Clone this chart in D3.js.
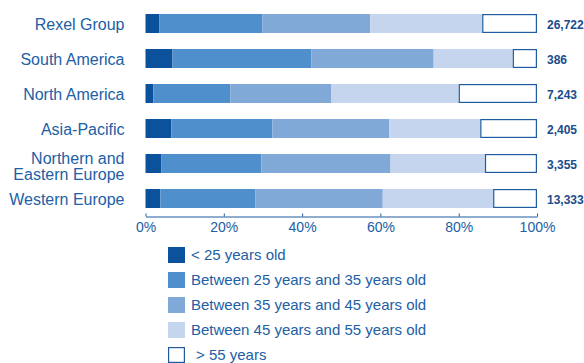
<!DOCTYPE html>
<html>
<head>
<meta charset="utf-8">
<script src="https://cdn.jsdelivr.net/npm/d3@7"></script>
<style>
  body { margin: 0; background: #fff; }
  svg { display: block; font-family: "Liberation Sans", Arial, sans-serif; }
</style>
</head>
<body>
<div id="chart"></div>
<script>
// regions, top to bottom
var regions = ['Rexel Group', 'South America', 'North America', 'Asia-Pacific', 'Northern and\nEastern Europe', 'Western Europe'];
var headcount = ['26,722', '386', '7,243', '2,405', '3,355', '13,333'];

// share of staff per age band (%)
var under25  = [3.5, 6.9, 2.0, 6.6, 4.0, 3.8];
var age25_35 = [26.3, 35.5, 19.7, 25.8, 25.6, 24.3];
var age35_45 = [27.6, 31.2, 25.8, 29.9, 33.0, 32.5];
var age45_55 = [28.6, 20.2, 32.5, 23.2, 24.1, 28.2];
var over55   = [14.0, 6.2, 20.0, 14.5, 13.3, 11.2];

var bands = ['< 25 years old', 'Between 25 years and 35 years old', 'Between 35 years and 45 years old',
             'Between 45 years and 55 years old', '> 55 years'];
var ticks = [0, 20, 40, 60, 80, 100];

var COLORS = ['#0b519c', '#4f8fcc', '#81a9d7', '#c4d5ed', '#ffffff'];
var STROKE = '#1e5b9f', TEXT = '#2160a5', VALUE = '#1b4c8c';

var WIDTH = 584, HEIGHT = 363;

var svg = d3.select('#chart').append('svg').attr('width', WIDTH).attr('height', HEIGHT);

var x = d3.scaleLinear().domain([0, 100]).range([145.5, 537]);
var y = d3.scaleBand().domain(regions).range([6, 216]).paddingInner(0.457).paddingOuter(0.2285);

// stack the rows
var rows = regions.map(function(r, i) {
    var o = { region: r };
    [under25, age25_35, age35_45, age45_55, over55].forEach(function(s, k) { o['k' + k] = s[i]; });
    return o;
});
var keys = ['k0', 'k1', 'k2', 'k3', 'k4'];
var series = d3.stack().keys(keys)(rows);

var bars = svg.append('g');
series.forEach(function(s, k) {
    bars.append('g').selectAll('rect').data(s).enter().append('rect')
        .attr('x', function(d) { return x(d[0]) + (k === 4 ? 0.6 : 0); })
        .attr('y', function(d) { return y(d.data.region) + (k === 4 ? 0.6 : 0); })
        .attr('width', function(d) { return x(d[1]) - x(d[0]) - (k === 4 ? 1.2 : 0); })
        .attr('height', y.bandwidth() - (k === 4 ? 1.2 : 0))
        .attr('fill', COLORS[k])
        .attr('stroke', k === 4 ? STROKE : 'none')
        .attr('stroke-width', 1.2);
});

// region labels
svg.append('g').selectAll('text').data(regions).enter().append('text')
    .attr('x', 124.5)
    .attr('y', function(d) { return y(d) + y.bandwidth() / 2; })
    .attr('text-anchor', 'end')
    .attr('fill', TEXT)
    .attr('font-size', 16)
    .each(function(d) {
        var lines = d.split('\n');
        var t = d3.select(this);
        lines.forEach(function(l, j) {
            t.append('tspan').attr('x', 124.5)
                .attr('dy', j === 0 ? (lines.length > 1 ? '0em' : '0.43em') : '1em')
                .text(l);
        });
    });

// headcount at the right
svg.append('g').selectAll('text').data(regions).enter().append('text')
    .attr('x', 547)
    .attr('y', function(d) { return y(d) + y.bandwidth() / 2; })
    .attr('dy', '0.48em')
    .attr('fill', VALUE)
    .attr('font-size', 12)
    .attr('font-weight', 'bold')
    .text(function(d, i) { return headcount[i]; });

// x axis, ticks pointing up
var axis = svg.append('g').attr('transform', 'translate(0,216.5)')
    .call(d3.axisBottom(x).tickValues(ticks).tickSizeInner(-3).tickSizeOuter(0)
        .tickFormat(function(d) { return d + '%'; }));
axis.select('.domain').attr('stroke', STROKE);
axis.selectAll('.tick line').attr('stroke', STROKE);
axis.selectAll('.tick text').attr('fill', TEXT).attr('font-size', 14)
    .attr('font-family', '"Liberation Sans", Arial, sans-serif')
    .attr('y', 6).attr('dy', '0.71em');

// legend
var legend = svg.append('g').selectAll('g').data(bands).enter().append('g')
    .attr('transform', function(d, i) { return 'translate(168,' + (247 + i * 25) + ')'; });
legend.append('rect')
    .attr('x', function(d, i) { return i === 4 ? 0.6 : 0; })
    .attr('y', function(d, i) { return i === 4 ? 0.6 : 0; })
    .attr('width', function(d, i) { return i === 4 ? 15.8 : 17; })
    .attr('height', function(d, i) { return i === 4 ? 14.8 : 16; })
    .attr('fill', function(d, i) { return COLORS[i]; })
    .attr('stroke', function(d, i) { return i === 4 ? STROKE : 'none'; })
    .attr('stroke-width', 1.2);
legend.append('text')
    .attr('x', function(d, i) { return i === 4 ? 28 : 23; })
    .attr('y', 8)
    .attr('dy', '0.36em')
    .attr('fill', TEXT)
    .attr('font-size', 15)
    .text(function(d) { return d; });
</script>
</body>
</html>
